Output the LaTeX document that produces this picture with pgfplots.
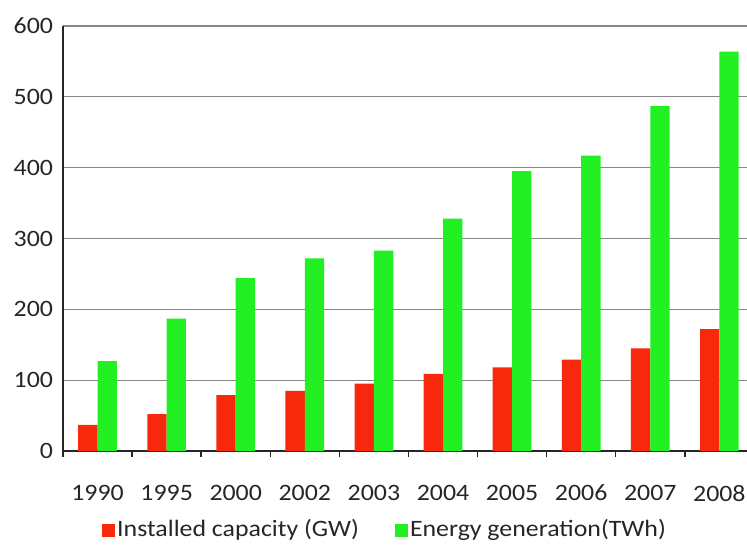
\documentclass[border=0pt]{standalone}
\usepackage{fontspec}
\setmainfont[FakeStretch=1.1]{Carlito}
\usepackage{pgfplots}
\pgfplotsset{compat=1.18}
\definecolor{barred}{RGB}{248,40,12}
\definecolor{bargreen}{RGB}{34,240,34}
\definecolor{gridgray}{RGB}{135,135,135}
\begin{document}
\fontsize{23.5}{27}\selectfont
\begin{tikzpicture}
\begin{axis}[
  scale only axis, width=684pt, height=425pt,
  xmin=-0.5, xmax=9.4, ymin=0, ymax=600,
  axis x line*=bottom, axis y line*=left,
  axis line style={-, line width=1.5pt, draw=black!85},
  ytick={0,100,...,600},
  ymajorgrids, grid style={gridgray, line width=1.3pt},
  xtick={0,...,9},
  xticklabels={1990,1995,2000,2002,2003,2004,2005,2006,2007,2008},
  minor xtick={-0.5,0.5,...,8.5},
  major tick length=0pt, minor tick length=6pt, tick align=outside,
  minor tick style={line width=1.5pt, black!85},
  /pgf/number format/assume math mode=true,
  ticklabel style={font=\fontsize{23.5}{27}\selectfont, text=black!85},
  yticklabel style={xshift=-2pt},
  xticklabel style={yshift=-26pt},
  legend style={draw=none, fill=none, legend columns=2, at={(0.4708,-0.186)}, anchor=center,
    font=\fontsize{23.5}{27}\selectfont, text=black!85,
    nodes={inner sep=2pt},
    /tikz/every even column/.append style={column sep=34pt}},
  legend image code/.code={\fill[#1] (0pt,-6.5pt) rectangle (13pt,6.5pt);},
]
\addplot[ybar, bar width=0.28, bar shift=-0.14, fill=barred, draw=none] coordinates {
(0,37) (1,52) (2,79) (3,85) (4,95) (5,109) (6,118) (7,129) (8,145) (9,172)};
\addlegendentry{Installed capacity (GW)}
\addplot[ybar, bar width=0.28, bar shift=0.14, fill=bargreen, draw=none] coordinates {
(0,127) (1,187) (2,244) (3,272) (4,283) (5,328) (6,395) (7,417) (8,487) (9,564)};
\addlegendentry{Energy generation(TWh)}
\end{axis}
\pgfresetboundingbox
\path[use as bounding box] (current axis.south west) ++(-63pt,-98pt) rectangle ++(747pt,549pt);
\end{tikzpicture}
\end{document}
